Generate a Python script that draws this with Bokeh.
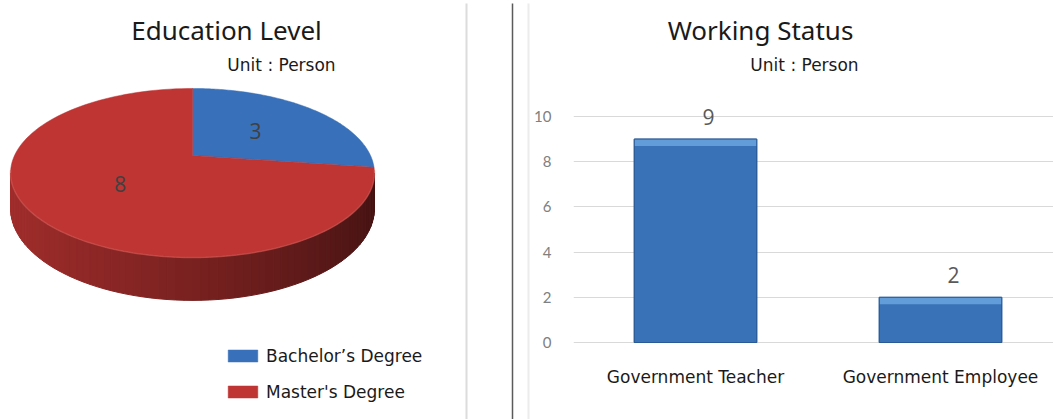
import math
import numpy as np
from bokeh.plotting import figure
from bokeh.models import Range1d, FixedTicker, Legend, LegendItem, ColumnDataSource
from bokeh.layouts import row
from bokeh.embed import file_html
from bokeh.resources import INLINE
from bokeh.core.properties import value

# ---------------- data ----------------
edu_levels = ["Bachelor’s Degree", "Master's Degree"]
edu_counts = [3, 8]
edu_colors = ["#3870b9", "#be3534"]
edu_side_light = ["#2d5d9c", "#a12d2b"]
edu_side_dark = ["#16345c", "#441212"]

work_status = ["Government Teacher", "Government Employee"]
work_counts = [9, 2]
y_ticks = [0, 2, 4, 6, 8, 10]

# ---------------- layout constants ----------------
H = 419
W1 = 530
W2 = 1053 - W1

def fx(X):  # page px -> left-figure data x
    return X

def fy(Y):  # page px -> left-figure data y
    return H - Y

# 3D pie projection (perspective tilt)
CX, CY = 192, 155
RX, RY, K, DEPTH = 178, 80.9, 0.207, 34

def proj(theta_deg, r=1.0, drop=0.0):
    t = math.radians(theta_deg)
    u, v = r * math.cos(t), r * math.sin(t)
    s = 1 + K * v
    X = CX + RX * u / s
    Y = CY - RY * v / s + drop / s
    return fx(X), fy(Y)

def mix(c1, c2, f):
    a = [int(c1[i:i + 2], 16) for i in (1, 3, 5)]
    b = [int(c2[i:i + 2], 16) for i in (1, 3, 5)]
    return "#%02x%02x%02x" % tuple(int(round(a[j] + (b[j] - a[j]) * f)) for j in range(3))

# ---------------- left: pie ----------------
p1 = figure(width=W1, height=H, x_range=Range1d(0, W1), y_range=Range1d(0, H),
            output_backend="svg", toolbar_location=None, min_border=0,
            x_axis_location=None, y_axis_location=None)
p1.grid.visible = False
p1.outline_line_color = None

total = sum(edu_counts)
bounds = [90.0]
for c in edu_counts:
    bounds.append(bounds[-1] - 360.0 * c / total)

def slice_of(theta):
    for i in range(len(edu_counts)):
        hi, lo = bounds[i], bounds[i + 1]
        for shift in (0, -360, 360):
            if lo <= theta + shift <= hi:
                return i
    return len(edu_counts) - 1

# side band (only the visible front part, between the silhouette points)
sil = math.degrees(math.asin(K))
edges = sorted(set(list(np.linspace(-180 + sil, -sil, 73)) +
                   [b for b in bounds if -180 + sil < b < -sil]))
sxs, sys_, scol = [], [], []
for a, b in zip(edges[:-1], edges[1:]):
    m = (a + b) / 2
    i = slice_of(m)
    f = (math.cos(math.radians(m)) + 1) / 2
    col = mix(edu_side_light[i], edu_side_dark[i], f ** 1.2)
    pts = [proj(a), proj(b), proj(b, drop=DEPTH), proj(a, drop=DEPTH)]
    sxs.append([q[0] for q in pts])
    sys_.append([q[1] for q in pts])
    scol.append(col)
p1.patches(xs=sxs, ys=sys_, fill_color=scol, line_color=scol, line_width=1)

# top faces
txs, tys = [], []
for i in range(len(edu_counts)):
    arc = [proj(t) for t in np.linspace(bounds[i], bounds[i + 1], 120)]
    ax, ay = proj(0, r=0.0)
    txs.append([ax] + [q[0] for q in arc])
    tys.append([ay] + [q[1] for q in arc])
top_src = ColumnDataSource(dict(xs=txs, ys=tys, color=edu_colors))
top_r = p1.patches(xs="xs", ys="ys", fill_color="color", line_color="color",
                   line_width=0.5, source=top_src)

# front rim highlight
rim = [proj(t) for t in np.linspace(-170, -10, 120)]
p1.line([q[0] for q in rim], [q[1] for q in rim], line_color="#d2615b",
        line_alpha=0.5, line_width=1.5)

# slice labels
lx, ly = [], []
for i in range(len(edu_counts)):
    mid = (bounds[i] + bounds[i + 1]) / 2
    q = proj(mid, r=0.5)
    lx.append(q[0]); ly.append(q[1])
p1.text(x=lx, y=ly, text=[str(c) for c in edu_counts], text_align="center",
        text_baseline="middle", text_font=value("Open Sans"), text_font_size="21px",
        text_color="#404040")

# titles
p1.text(x=[fx(226)], y=[fy(29)], text=["Education Level"], text_align="center",
        text_baseline="middle", text_font=value("Noto Sans"), text_font_size="26px",
        text_color="#1a1a1a")
p1.text(x=[fx(281)], y=[fy(64)], text=["Unit : Person"], text_align="center",
        text_baseline="middle", text_font=value("DejaVu Sans"), text_font_size="17px",
        text_color="#1a1a1a")

# dividers
p1.segment(x0=[fx(466)], y0=[fy(3)], x1=[fx(466)], y1=[fy(425)], line_color="#dcdcdc", line_width=2)
p1.segment(x0=[fx(512)], y0=[fy(3)], x1=[fx(512)], y1=[fy(425)], line_color="#5a5a5a", line_width=1.5)
p1.segment(x0=[fx(528)], y0=[fy(3)], x1=[fx(528)], y1=[fy(425)], line_color="#ececec", line_width=2)

legend = Legend(items=[LegendItem(label=l, renderers=[top_r], index=i) for i, l in enumerate(edu_levels)],
                location=(224, 17.5), orientation="vertical",
                glyph_width=37, glyph_height=15, label_standoff=5, spacing=16,
                padding=0, margin=0, border_line_color=None, background_fill_alpha=0,
                label_text_font="DejaVu Sans", label_text_font_size="17px",
                label_text_color="#1a1a1a", label_height=15)
p1.add_layout(legend)

# ---------------- right: bars ----------------
PX_PER_UNIT_Y = 22.6
Y0_PAGE = 342
y_start = -(H - Y0_PAGE) / PX_PER_UNIT_Y
y_end = Y0_PAGE / PX_PER_UNIT_Y
PX_PER_CAT = 245.0
CAT0_PAGE = 572.5
FRAME_LEFT = 573
x_start = (FRAME_LEFT - CAT0_PAGE) / PX_PER_CAT
x_end = x_start + (1053 - FRAME_LEFT) / PX_PER_CAT

def bx(X):
    return (X - CAT0_PAGE) / PX_PER_CAT

def by(Y):
    return (Y0_PAGE - Y) / PX_PER_UNIT_Y

p2 = figure(width=W2, height=H, x_range=Range1d(x_start, x_end), y_range=Range1d(y_start, y_end),
            output_backend="svg", toolbar_location=None, x_axis_location=None,
            min_border_left=FRAME_LEFT - W1, min_border_right=0, min_border_top=0, min_border_bottom=0)
p2.outline_line_color = None
p2.xgrid.visible = False
p2.ygrid.grid_line_color = "#d9d9d9"
p2.ygrid.grid_line_width = 1

cat_x = [i + 0.5 for i in range(len(work_status))]

p2.yaxis.ticker = FixedTicker(ticks=y_ticks)
p2.yaxis.axis_line_color = None
p2.yaxis.major_tick_line_color = None
p2.yaxis.minor_tick_line_color = None
p2.yaxis.major_tick_out = 0
p2.yaxis.major_tick_in = 0
p2.yaxis.minor_tick_out = 0
p2.yaxis.major_label_standoff = 22
p2.yaxis.major_label_text_font = "Lato"
p2.yaxis.major_label_text_font_size = "15px"
p2.yaxis.major_label_text_color = "#808080"

bsrc = ColumnDataSource(dict(x=cat_x, top=work_counts, label=[str(v) for v in work_counts],
                             bevel=[v - 7 / PX_PER_UNIT_Y for v in work_counts],
                             name=work_status))
p2.vbar(x="x", top="top", bottom=0, width=0.5, source=bsrc,
        fill_color="#3a72b8", line_color="#2a5a96", line_width=1)
p2.vbar(x="x", top="top", bottom="bevel", width=0.5, source=bsrc,
        fill_color="#6aa3de", fill_alpha=0.85, line_color=None)
p2.vbar(x="x", top="top", bottom=0, width=0.5, source=bsrc,
        fill_color=None, line_color="#2a5a96", line_width=1)
p2.text(x="x", y="top", text="label", source=bsrc, text_align="center",
        text_baseline="middle", x_offset=13, y_offset=-22,
        text_font=value("Open Sans"), text_font_size="21px", text_color="#595959")

# category labels under the bars
p2.text(x="x", y=by(376), text="name", source=bsrc, text_align="center",
        text_baseline="middle",
        text_font=value("DejaVu Sans"), text_font_size="17px", text_color="#1a1a1a")

p2.text(x=[bx(760)], y=[by(29)], text=["Working Status"], text_align="center",
        text_baseline="middle", text_font=value("Noto Sans"), text_font_size="26px",
        text_color="#1a1a1a")
p2.text(x=[bx(804)], y=[by(64)], text=["Unit : Person"], text_align="center",
        text_baseline="middle", text_font=value("DejaVu Sans"), text_font_size="17px",
        text_color="#1a1a1a")

layout = row(p1, p2)
open("out.html", "w").write(file_html(layout, INLINE))
